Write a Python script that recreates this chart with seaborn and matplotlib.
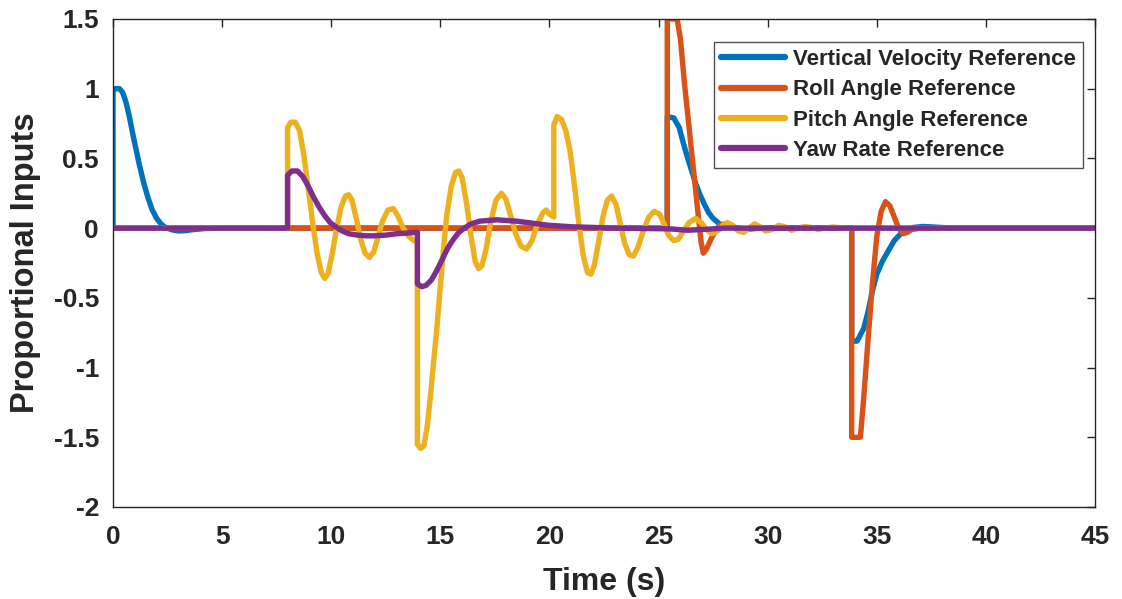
import numpy as np
import pandas as pd
import matplotlib
matplotlib.use("Agg")
import matplotlib.pyplot as plt
import seaborn as sns

# ---------------- data ----------------
vv_t = [0, 0, 0.15, 0.3, 0.45, 0.6, 0.75, 0.9, 1.05, 1.2, 1.4, 1.6, 1.8, 2.0, 2.2, 2.4,
        2.7, 3.0, 3.3, 3.7, 4.2, 5.0, 25.4, 25.4, 25.7, 25.95, 26.1, 26.3, 26.5, 26.7,
        26.9, 27.1, 27.3, 27.5, 27.8, 28.2, 28.6, 29.0, 30.0, 33.85, 33.85, 34.1, 34.4,
        34.6, 34.8, 35.0, 35.25, 35.5, 35.8, 36.1, 36.4, 36.7, 37.1, 37.6, 38.5, 45.0]
vv_v = [0, 1.0, 1.0, 1.0, 0.97, 0.9, 0.8, 0.68, 0.57, 0.46, 0.33, 0.22, 0.13, 0.07, 0.03, 0.005,
        -0.012, -0.02, -0.018, -0.01, -0.003, 0, 0, 0.8, 0.79, 0.72, 0.63, 0.52, 0.42, 0.32,
        0.24, 0.17, 0.11, 0.07, 0.03, 0.01, 0, -0.005, 0, 0, -0.81, -0.81, -0.72,
        -0.6, -0.45, -0.33, -0.24, -0.17, -0.09, -0.04, -0.01, 0.005, 0.012, 0.008, 0, 0]

roll_t = [0, 25.4, 25.4, 25.85, 26.0, 26.2, 26.4, 26.6, 26.8, 26.95, 27.05, 27.2, 27.4,
          27.6, 27.8, 28.0, 28.3, 28.6, 29.0, 29.5, 33.85, 33.85, 34.25, 34.4, 34.6, 34.8,
          35.0, 35.2, 35.4, 35.6, 35.8, 36.0, 36.2, 36.4, 36.6, 37.0, 45.0]
roll_v = [0, 0, 1.5, 1.5, 1.36, 1.02, 0.72, 0.42, 0.12, -0.1, -0.18, -0.15, -0.08,
          -0.02, 0.02, 0.03, 0.02, 0, -0.01, 0, 0, -1.5, -1.5, -1.22, -0.8, -0.4,
          -0.06, 0.12, 0.19, 0.16, 0.08, 0.0, -0.04, -0.03, -0.01, 0, 0]

pitch_t = [0, 8.0, 8.0, 8.15, 8.35, 8.55, 8.75, 8.95, 9.15, 9.35, 9.55, 9.7, 9.85, 10.05,
           10.25, 10.45, 10.65, 10.8, 10.95, 11.15, 11.35, 11.55, 11.75, 11.95, 12.15, 12.35,
           12.6, 12.85, 13.05, 13.3, 13.55, 13.8, 13.95, 13.95, 14.1, 14.25, 14.4, 14.55,
           14.7, 14.85, 15.0, 15.15, 15.3, 15.5, 15.7, 15.85, 16.0, 16.2, 16.4, 16.6, 16.75,
           16.9, 17.1, 17.3, 17.55, 17.8, 18.0, 18.2, 18.45, 18.7, 18.95, 19.2, 19.45, 19.7,
           19.85, 20.0, 20.2, 20.2, 20.35, 20.55, 20.75, 20.95, 21.15, 21.35, 21.55, 21.75,
           21.9, 22.05, 22.25, 22.45, 22.65, 22.85, 23.05, 23.25, 23.45, 23.65, 23.85, 24.05,
           24.3, 24.55, 24.8, 25.05, 25.25, 25.45, 25.7, 25.9, 26.15, 26.4, 26.7, 26.95,
           27.2, 27.45, 27.7, 27.95, 28.15, 28.4, 28.65, 28.9, 29.15, 29.4, 29.65, 29.9,
           30.2, 30.5, 30.8, 31.1, 31.4, 31.7, 32.0, 32.3, 32.6, 33.0, 33.5, 45.0]
pitch_v = [0, 0, 0.72, 0.76, 0.76, 0.7, 0.52, 0.28, 0.04, -0.18, -0.32, -0.36, -0.33, -0.18,
           0.0, 0.15, 0.23, 0.24, 0.2, 0.07, -0.08, -0.18, -0.21, -0.17, -0.06, 0.05,
           0.13, 0.14, 0.09, 0.0, -0.06, -0.09, -0.1, -1.55, -1.58, -1.56, -1.42, -1.2,
           -0.95, -0.7, -0.42, -0.14, 0.1, 0.3, 0.4, 0.41, 0.36, 0.18, -0.05, -0.24, -0.29,
           -0.27, -0.15, 0.04, 0.2, 0.25, 0.21, 0.1, -0.04, -0.13, -0.15, -0.09, 0.03, 0.11,
           0.13, 0.1, 0.08, 0.74, 0.8, 0.78, 0.7, 0.55, 0.3, 0.03, -0.2, -0.32,
           -0.33, -0.27, -0.1, 0.08, 0.2, 0.23, 0.17, 0.03, -0.11, -0.19, -0.2, -0.14,
           -0.02, 0.08, 0.12, 0.1, 0.03, -0.05, -0.09, -0.08, -0.02, 0.04, 0.07, 0.04,
           -0.01, -0.04, -0.02, 0.02, 0.04, 0.02, -0.02, -0.03, 0.0, 0.03, 0.01, -0.02,
           -0.01, 0.02, 0.01, -0.015, 0, 0.012, 0.005, -0.01, 0, 0.008, 0, 0]

yaw_t = [0, 8.0, 8.0, 8.2, 8.45, 8.7, 8.95, 9.2, 9.45, 9.7, 9.95, 10.2, 10.5, 10.8, 11.2,
         11.6, 12.0, 12.5, 13.0, 13.5, 13.95, 13.95, 14.15, 14.35, 14.6, 14.85, 15.1, 15.35,
         15.6, 15.85, 16.1, 16.4, 16.8, 17.2, 17.6, 18.0, 18.5, 19.0, 19.5, 20.0, 20.5,
         21.0, 22.0, 23.0, 25.5, 26.3, 27.0, 28.0, 45.0]
yaw_v = [0, 0, 0.38, 0.41, 0.41, 0.37, 0.3, 0.22, 0.15, 0.09, 0.04, 0.01, -0.02, -0.04, -0.05,
         -0.055, -0.055, -0.05, -0.04, -0.035, -0.03, -0.4, -0.42, -0.41, -0.37, -0.3, -0.22, -0.14,
         -0.08, -0.03, 0.0, 0.03, 0.05, 0.055, 0.06, 0.055, 0.05, 0.04, 0.03, 0.02, 0.015,
         0.01, 0.005, 0, -0.005, -0.015, -0.01, 0, 0]

series_names = ["Vertical Velocity Reference", "Roll Angle Reference",
                "Pitch Angle Reference", "Yaw Rate Reference"]
colors = ["#0072BD", "#D95319", "#EDB120", "#7E2F8E"]
x_ticks = [0, 5, 10, 15, 20, 25, 30, 35, 40, 45]
y_ticks = [-2, -1.5, -1, -0.5, 0, 0.5, 1, 1.5]
y_tick_labels = ["-2", "-1.5", "-1", "-0.5", "0", "0.5", "1", "1.5"]

sns.set_theme(style="white")
plt.rcParams["font.family"] = ["Liberation Sans", "DejaVu Sans"]
plt.rcParams["font.weight"] = "bold"

fig = plt.figure(figsize=(11.22, 5.99), dpi=100)
ax = fig.add_axes([113 / 1122, 1 - 507 / 599, (1095 - 113) / 1122, (507 - 19) / 599])

for i, (name, t, v, c) in enumerate(zip(series_names, [vv_t, roll_t, pitch_t, yaw_t],
                                        [vv_v, roll_v, pitch_v, yaw_v], colors)):
    d = pd.DataFrame({"Time": t, "Value": v})
    sns.lineplot(data=d, x="Time", y="Value", color=c, estimator=None, sort=False,
                 linewidth=3.9, ax=ax, label=name)

# enforce MATLAB-like stacking: later series on top
for ln in ax.lines:
    col = matplotlib.colors.to_hex(ln.get_color()).upper()
    if col in colors:
        ln.set_zorder(10 + colors.index(col))

ax.set_xlim(0, 45)
ax.set_ylim(-2, 1.5)
ax.set_xticks(x_ticks)
ax.set_xticklabels([str(x) for x in x_ticks])
ax.set_yticks(y_ticks)
ax.set_yticklabels(y_tick_labels)
ax.tick_params(direction="in", length=6, width=1, colors="#262626", labelsize=19,
               top=True, right=True, labelcolor="#262626")
ax.tick_params(axis="x", pad=13)
ax.tick_params(axis="y", pad=10)
for lab in ax.get_xticklabels() + ax.get_yticklabels():
    lab.set_fontweight("bold")
for sp in ax.spines.values():
    sp.set_visible(True)
    sp.set_color("#262626")
    sp.set_linewidth(1.0)
    sp.set_zorder(30)

ax.set_xlabel("Time (s)", fontsize=23, fontweight="bold", color="#262626", labelpad=13)
ax.set_ylabel("Proportional Inputs", fontsize=23.5, fontweight="bold", color="#262626",
              labelpad=9)

leg = ax.legend(loc="upper right", bbox_to_anchor=(0.988, 0.953), frameon=True,
                fancybox=False, edgecolor="#262626",
                prop={"weight": "bold", "size": 16}, handlelength=2.9,
                handletextpad=0.35, labelspacing=0.42, borderpad=0.32, borderaxespad=0)
leg.get_frame().set_linewidth(1.0)
leg.set_zorder(40)
for line in leg.get_lines():
    line.set_linewidth(4.5)

fig.savefig("out.png", dpi=100)
